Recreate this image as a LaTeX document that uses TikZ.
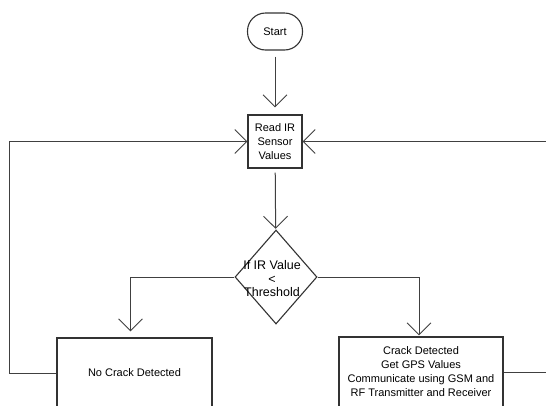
\documentclass[tikz,border=0pt]{standalone}
\usepackage{fontspec}
\setmainfont{Liberation Sans}
\usetikzlibrary{shapes.geometric,arrows.meta}
\begin{document}
\begin{tikzpicture}[x=1pt,y=-1pt,
  box/.style={draw=black!80, line width=1.1pt, align=center, font=\fontsize{11}{14}\selectfont, inner sep=0pt},
  txt/.style={align=center, font=\fontsize{12.5}{13.5}\selectfont, inner sep=0pt},
  conn/.style={draw=black!75, line width=1pt},
  arr/.style={conn, -{Straight Barb[length=12pt,width=24pt,line width=0.9pt]}}]
\useasboundingbox (0,0) rectangle (546,405);
\clip (0,0) rectangle (546,405);
\fill[white] (0,0) rectangle (546,405);
% nodes
\node[box, rounded corners=18pt, minimum width=55pt, minimum height=37pt] (start) at (275,31.5) {Start};
\node[box, minimum width=54pt, minimum height=53pt] (read) at (275,141.5) {Read IR\\Sensor\\Values};
\node[diamond, draw=black!80, line width=1.1pt, minimum width=82pt, minimum height=94pt, inner sep=0pt] (dec) at (276,277) {};
\node[txt] (dect) at (272,279) {If IR Value\\<\\Threshold};
\node[box, minimum width=155pt, minimum height=70pt] (nocrack) at (134.5,373) {No Crack Detected};
\node[box, minimum width=164pt, minimum height=70pt] (crack) at (421,372) {Crack Detected\\Get GPS Values\\Communicate using GSM and\\RF Transmitter and Receiver};
% connectors
\draw[arr, shorten <=6pt, shorten >=7pt] (start) -- (read);
\draw[arr, shorten <=4pt, shorten >=1pt] (read) -- (dec);
\draw[arr, shorten >=6pt] (dec.west) -| ([xshift=-4pt]nocrack.north);
\draw[arr, shorten >=1pt] (dec.east) -| ([xshift=-2pt]crack.north);
\draw[arr] (nocrack.west) -- ++(-47,0) |- (read.west);
\draw[arr] (crack.east) -- ++(60,0) |- (read.east);
\end{tikzpicture}
\end{document}
